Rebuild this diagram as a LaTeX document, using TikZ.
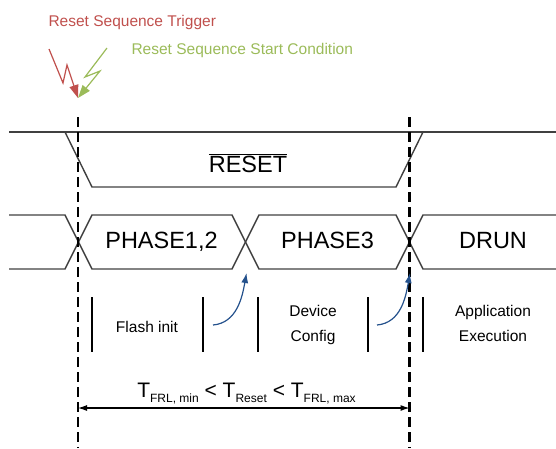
\documentclass[tikz,border=0pt]{standalone}
\usepackage{fontspec}
\setmainfont{Liberation Sans}
\usetikzlibrary{arrows.meta}
\definecolor{trigred}{HTML}{C0504D}
\definecolor{startgreen}{HTML}{9BBB59}
\definecolor{hintblue}{HTML}{24518C}
\newcommand{\lowsub}[1]{\raisebox{-0.5ex}{\fontsize{12}{14}\selectfont #1}}
\tikzset{
  wave/.style={draw=black!75, line width=1.4pt},
  marker/.style={draw=black, line width=2.2pt, dash pattern=on 10pt off 5pt},
  bar/.style={draw=black, line width=1.1pt},
  biglabel/.style={font=\fontsize{23.5}{27}\selectfont, anchor=base},
  smalllabel/.style={font=\fontsize{15.5}{25}\selectfont, align=center, anchor=base},
  bolt/.style={line width=1.2pt, -{Triangle[length=13pt,width=9pt]}},
  hint/.style={hintblue, line width=1.2pt, -{Latex[length=10pt,width=7pt]}}
}
\begin{document}
\begin{tikzpicture}[x=1pt,y=-1pt]
  \useasboundingbox (0,0) rectangle (556,448);
  % trigger and start condition
  \node[smalllabel, trigred, anchor=base west] (trigtext) at (45,26) {Reset Sequence Trigger};
  \node[smalllabel, startgreen, anchor=base west] (starttext) at (128,54) {Reset Sequence Start Condition};
  \coordinate (trig) at (78,98);
  \draw[bolt, trigred] (49,49) -- (63,83) -- (67,65) -- (trig);
  \draw[bolt, startgreen] (107,48) -- (85,77) -- (100,71) -- (trig);

  % RESET line
  \draw[wave] (9,132) -- (556,132);
  \draw[wave] (65,132) -- (92,187) -- (396,187) -- (423,132);
  \node[biglabel] (reset) at (248,172) {$\overline{\mbox{RESET}}$};

  % phases
  \draw[wave] (9,215) -- (65,215) -- (92,269) -- (232,269) -- (259,215) -- (396,215) -- (423,269) -- (556,269);
  \draw[wave] (9,269) -- (65,269) -- (92,215) -- (232,215) -- (259,269) -- (396,269) -- (423,215) -- (556,215);
  \node[biglabel] (ph12) at (161.5,248) {PHASE1,2};
  \node[biglabel] (ph3) at (327.5,248) {PHASE3};
  \node[biglabel] (drun) at (493,248) {DRUN};

  % markers
  \coordinate (startTop) at (78,117);
  \coordinate (startBot) at (78,448);
  \coordinate (endTop) at (409.5,117);
  \coordinate (endBot) at (409.5,448);
  \draw[marker] (startTop) -- (startBot);
  \draw[marker] (endTop) -- (endBot);

  % steps
  \foreach \x in {92,203,258,368,423}{
    \draw[bar] (\x,297) -- (\x,352);
  }
  \node[smalllabel] (flash) at (147,332) {Flash init};
  \node[smalllabel] (devcfg) at (313,341) {Device\\Config};
  \node[smalllabel] (appexe) at (493,341) {Application\\Execution};
  \coordinate (tip2) at (246.5,273);
  \coordinate (tip3) at (410,273);
  \coordinate (from2) at (213,325);
  \coordinate (from3) at (377,325);
  \draw[hint] (from2) to[out=5,in=-100] (tip2);
  \draw[hint] (from3) to[out=5,in=-100] (tip3);

  % timing
  \coordinate (tL) at (78,408);
  \coordinate (tR) at (409.5,408);
  \draw[line width=1.1pt, {Latex[length=9pt,width=6pt]}-{Latex[length=9pt,width=6pt]}] (tL) -- (tR);
  \node[font=\fontsize{21}{24}\selectfont, anchor=base] (tframe) at (246.5,397)
    {T\lowsub{FRL, min} < T\lowsub{Reset} < T\lowsub{FRL, max}};
\end{tikzpicture}
\end{document}
